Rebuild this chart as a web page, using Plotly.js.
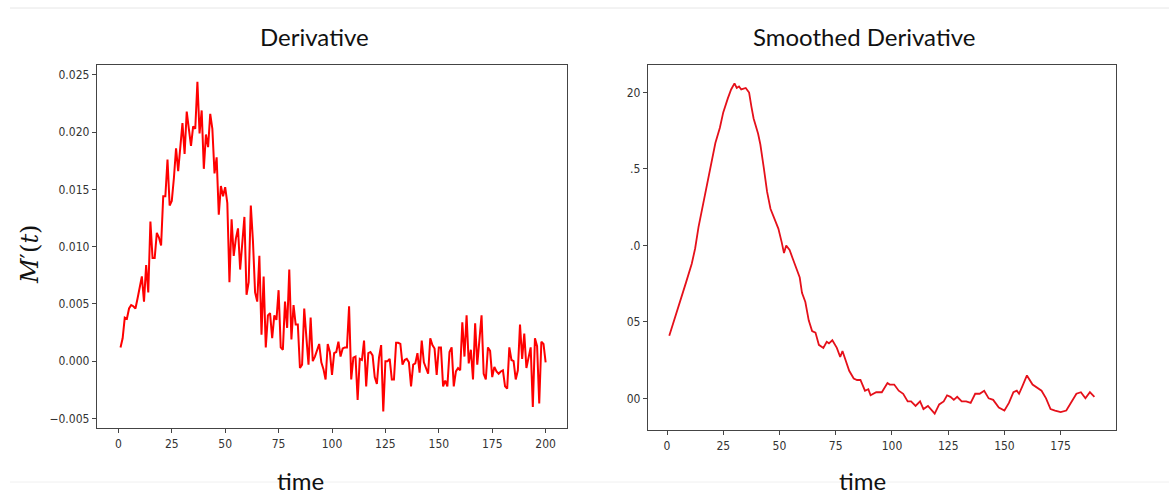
<!DOCTYPE html>
<html>
<head>
<meta charset="utf-8">
<script src="https://cdn.plot.ly/plotly-3.0.1.min.js"></script>
<style>html,body{margin:0;padding:0;background:#fff;}#chart{width:1169px;height:497px;}</style>
</head>
<body>
<div id="chart"></div>
<script>
// Left panel: raw derivative M'(t), t = 1..200
const derivValues = [
 0.0012,0.0020,0.0038,0.0037,0.0046,0.0049,0.0048,0.0046,0.0055,0.0064,
 0.0074,0.0052,0.0084,0.0060,0.0122,0.0090,0.0090,0.0112,0.0108,0.0101,
 0.0144,0.0144,0.0176,0.0136,0.0140,0.0160,0.0186,0.0166,0.0185,0.0208,
 0.0181,0.0218,0.0203,0.0188,0.0205,0.0203,0.0244,0.0199,0.0219,0.0168,
 0.0198,0.0187,0.0216,0.0203,0.0164,0.0178,0.0128,0.0153,0.0144,0.0152,
 0.0138,0.0069,0.0124,0.0092,0.0107,0.0116,0.0080,0.0107,0.0126,0.0058,
 0.0069,0.0136,0.0105,0.0060,0.0052,0.0092,0.0023,0.0074,0.0012,0.0040,
 0.0042,0.0020,0.0040,0.0036,0.0062,0.0012,0.0010,0.0052,0.0029,0.0080,
 0.0019,0.0049,0.0032,0.0032,-0.0006,-0.0003,0.0046,0.0021,-0.0003,0.0038,
 0.0000,0.0004,0.0009,0.0015,-0.0001,-0.0007,-0.0016,0.0015,0.0008,-0.0012,
 0.0007,0.0008,0.0017,0.0004,0.0011,0.0012,0.0012,0.0048,-0.0016,0.0003,
 0.0004,-0.0034,0.0002,0.0001,0.0018,-0.0022,0.0007,0.0008,0.0005,-0.0014,
 -0.0020,0.0003,0.0014,-0.0044,0.0000,0.0000,0.0002,-0.0016,-0.0016,0.0016,
 0.0016,0.0015,-0.0003,0.0001,0.0002,-0.0001,-0.0022,-0.0003,-0.0002,0.0007,
 -0.0010,0.0018,-0.0001,-0.0007,-0.0011,0.0020,0.0014,0.0011,-0.0012,0.0012,
 0.0012,-0.0022,-0.0017,-0.0022,0.0008,0.0012,-0.0022,-0.0009,-0.0006,-0.0008,
 0.0034,0.0004,0.0040,-0.0002,0.0010,-0.0016,0.0033,-0.0003,0.0017,0.0040,
 -0.0011,-0.0016,0.0012,0.0009,-0.0014,-0.0005,-0.0009,-0.0011,-0.0009,-0.0008,
 -0.0022,-0.0024,0.0012,0.0001,0.0000,-0.0016,-0.0008,0.0032,0.0002,0.0024,
 -0.0006,0.0002,0.0012,-0.0040,0.0020,0.0013,-0.0037,0.0017,0.0015,-0.0001
];
const derivTime = derivValues.map((v, i) => i + 1);

// Right panel: smoothed derivative
const smoothTime = [
 1,3,4.5,6.5,8.5,11,12.5,14,15.5,17,18.5,20,21.5,23.5,25,27,28.5,30,31,32,33,35,36.5,37.5,38.5,40.5,41.5,43,44.5,46,48,49.5,51,52,53,54.5,56,57.5,59,60,61.5,63,64.5,66,67.5,69.5,71,72,73.5,75.5,77,78,79.5,81,83,84.5,86,88,89.5,90.5,93,95.5,98,99,101,103,105,107,108.5,110.5,112.5,114,116,118,119,121,123,124.5,126,127.5,129,131,133,135,137,139,141,143,145,147.5,150,152,154,155.5,156.5,158,160,162.5,164.5,166.5,168.5,170.5,172.5,175,177.5,180,182,184,186,188,190
];
const smoothValues = [
 0.0041,0.0050,0.0058,0.0066,0.0076,0.0088,0.0098,0.0112,0.0123,0.0134,0.0144,0.0155,0.0167,0.0177,0.0187,0.0196,0.0202,0.0206,0.0203,0.0204,0.0202,0.0203,0.0200,0.0191,0.0183,0.0173,0.0166,0.0151,0.0135,0.0124,0.0116,0.0111,0.0102,0.0095,0.0100,0.0097,0.0091,0.0085,0.0079,0.0069,0.0063,0.0051,0.0044,0.0043,0.0035,0.0033,0.0037,0.0036,0.0038,0.0033,0.0027,0.0031,0.0025,0.0018,0.0013,0.0012,0.0012,0.0005,0.0006,0.0002,0.0004,0.0004,0.0010,0.0009,0.0009,0.0005,0.0003,-0.0002,-0.0002,-0.0005,-0.0002,-0.0007,-0.0005,-0.0008,-0.0010,-0.0004,-0.0002,0.0002,0.0001,-0.0001,0.0001,-0.0002,-0.0002,-0.0003,0.0003,0.0003,0.0005,0.0000,-0.0001,-0.0006,-0.0008,-0.0003,0.0004,0.0005,0.0003,0.0008,0.0015,0.0009,0.0007,0.0005,0.0000,-0.0007,-0.0008,-0.0009,-0.0008,-0.0002,0.0003,0.0004,0.0000,0.0004,0.0001,-0.0001
];

const leftXTicks = [0,25,50,75,100,125,150,175,200];
const leftYTicks = [-0.005,0,0.005,0.01,0.015,0.02,0.025];
const leftYTickText = ['\u22120.005','0.000','0.005','0.010','0.015','0.020','0.025'];
const rightXTicks = [0,25,50,75,100,125,150,175];
const rightYTicks = [0,0.005,0.01,0.015,0.02];
const rightYTickText = ['00','05','.0','.5','20'];

const W = 1169, H = 497;
const px = v => v / W;
const py = v => 1 - v / H;

const tickFont = {family: 'DejaVu Sans Condensed, DejaVu Sans, sans-serif', size: 12, color: '#333'};
const axBase = {
  showgrid: false, zeroline: false, showline: true, mirror: true,
  linecolor: '#444', linewidth: 1.2, ticks: 'outside', ticklen: 4,
  tickcolor: '#444', tickwidth: 1, tickfont: tickFont, fixedrange: true
};

const traces = [
  {x: derivTime, y: derivValues, type: 'scatter', mode: 'lines',
   line: {color: '#ff0000', width: 2}, xaxis: 'x', yaxis: 'y', hoverinfo: 'skip'},
  {x: smoothTime, y: smoothValues, type: 'scatter', mode: 'lines',
   line: {color: '#e5101a', width: 1.8, shape: 'linear'}, xaxis: 'x2', yaxis: 'y2', hoverinfo: 'skip'}
];

const titleFont = {family: 'Lato, Open Sans, sans-serif', size: 24, color: '#111'};

const layout = {
  width: W, height: H,
  margin: {l: 0, r: 0, t: 0, b: 0},
  paper_bgcolor: '#fff', plot_bgcolor: '#fff',
  showlegend: false,
  xaxis: Object.assign({}, axBase, {domain: [px(97), px(567)], range: [-10, 210],
    tickvals: leftXTicks, anchor: 'y'}),
  yaxis: Object.assign({}, axBase, {domain: [py(428), py(65)], range: [-0.00584, 0.02587],
    tickvals: leftYTicks, ticktext: leftYTickText, anchor: 'x'}),
  xaxis2: Object.assign({}, axBase, {domain: [px(648), px(1116)], range: [-8.45, 199.6],
    tickvals: rightXTicks, anchor: 'y2'}),
  yaxis2: Object.assign({}, axBase, {domain: [py(430), py(65)], range: [-0.00207, 0.0218],
    tickvals: rightYTicks, ticktext: rightYTickText, anchor: 'x2'}),
  annotations: [
    {text: 'Derivative', xref: 'paper', yref: 'paper', x: px(314), y: py(36),
     showarrow: false, font: titleFont, xanchor: 'center', yanchor: 'middle'},
    {text: 'Smoothed Derivative', xref: 'paper', yref: 'paper', x: px(864), y: py(36),
     showarrow: false, font: titleFont, xanchor: 'center', yanchor: 'middle'},
    {text: 'time', xref: 'paper', yref: 'paper', x: px(300), y: py(480),
     showarrow: false, font: titleFont, xanchor: 'center', yanchor: 'middle'},
    {text: 'time', xref: 'paper', yref: 'paper', x: px(862), y: py(480),
     showarrow: false, font: titleFont, xanchor: 'center', yanchor: 'middle'},
    {text: '<i>M</i>\u2032(<i>t</i>)', xref: 'paper', yref: 'paper', x: px(30), y: py(255),
     showarrow: false, textangle: -90, font: {family: 'DejaVu Serif, serif', size: 24, color: '#111'},
     xanchor: 'center', yanchor: 'middle'}
  ],
  shapes: [
    {type: 'line', xref: 'paper', yref: 'paper', x0: px(10), x1: 1, y0: py(8), y1: py(8),
     line: {color: '#e6e6e6', width: 1}},
    {type: 'line', xref: 'paper', yref: 'paper', x0: px(10), x1: 1, y0: py(482), y1: py(482),
     line: {color: '#f0f0f0', width: 1}}
  ]
};

Plotly.newPlot('chart', traces, layout, {displayModeBar: false, staticPlot: true});
</script>
</body>
</html>
